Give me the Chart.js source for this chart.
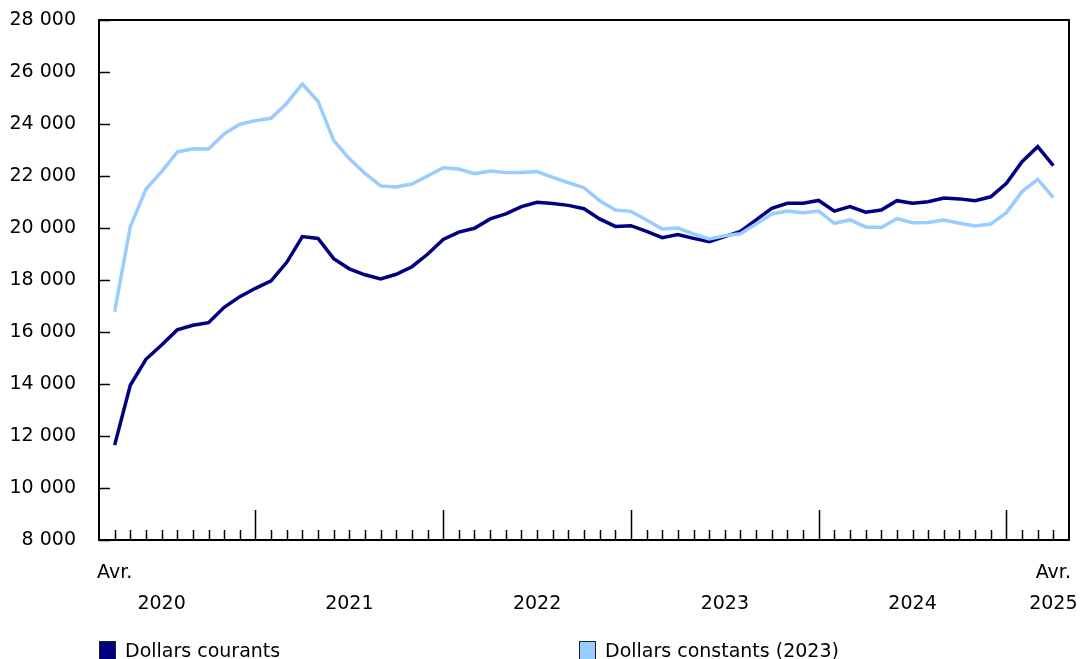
<!DOCTYPE html>
<html lang="fr">
<head>
<meta charset="utf-8">
<title>Dollars courants et constants</title>
<script src="https://cdn.jsdelivr.net/npm/chart.js@4.4.1/dist/chart.umd.min.js"></script>
<style>
    body { margin: 0; background: #fff; font-family: "DejaVu Sans", Verdana, sans-serif; }
    #wrap { position: relative; width: 1082px; height: 659px; overflow: hidden; }
    .legend-item { position: absolute; top: 639px; font-size: 19px; line-height: 22px; color: #000; white-space: nowrap; }
    .swatch { display: inline-block; width: 15px; height: 19px; border: 1.5px solid #222; vertical-align: -5px; margin-right: 9px; }
</style>
</head>
<body>
<div id="wrap">
    <canvas id="chart"></canvas>
    <div class="legend-item" style="left:99px"><span class="swatch" style="background:#000080"></span>Dollars courants</div>
    <div class="legend-item" style="left:579px"><span class="swatch" style="background:#99ccff"></span>Dollars constants (2023)</div>
</div>
<script>
// Monthly series, April 2020 to April 2025 (61 months)
const courants = [
    11650, 13950, 14950, 15500, 16080, 16260, 16360, 16950, 17360,
    17680, 17970, 18680, 19670, 19600, 18820, 18430, 18200, 18040, 18220, 18510, 18990, 19560,
    19840, 19990, 20350, 20540, 20820, 20990, 20940, 20870, 20740, 20350, 20060, 20090,
    19870, 19630, 19750, 19600, 19470, 19670, 19870, 20310, 20760, 20950, 20950, 21060,
    20650, 20820, 20610, 20690, 21050, 20950, 21010, 21150, 21120, 21050, 21200, 21720,
    22550, 23130, 22400
];
const constants = [
    16780, 20050, 21490, 22170, 22920, 23050, 23040, 23620, 23990,
    24130, 24220, 24800, 25540, 24870, 23370, 22660, 22100, 21620, 21580, 21690, 22000, 22320,
    22270, 22090, 22190, 22130, 22130, 22170, 21950, 21740, 21550, 21050, 20690, 20640,
    20310, 19960, 20000, 19770, 19580, 19700, 19780, 20150, 20540, 20650, 20590, 20650,
    20180, 20310, 20040, 20020, 20360, 20200, 20210, 20310, 20180, 20080, 20150, 20590,
    21400, 21870, 21170
];

// Axis labels
const edgeMonth = 'Avr.';
const years = ['2020', '2021', '2022', '2023', '2024', '2025'];
const yearAt = [3, 15, 27, 39, 51, 60];      // month index under which each year is written
const januaries = [9, 21, 33, 45, 57];       // long ticks
const yMin = 8000, yMax = 28000, yStep = 2000;

const points = arr => arr.map((v, i) => ({ x: i, y: v }));

function fmt(v) {
    return String(v).replace(/\B(?=(\d{3})+(?!\d))/g, ' ');
}

// Inward tick marks and chart frame
const ticksPlugin = {
    id: 'innerTicks',
    afterDraw(chart) {
        const { ctx, chartArea: a, scales: { x, y } } = chart;
        ctx.save();
        ctx.strokeStyle = '#000';
        ctx.lineWidth = 1.5;
        ctx.beginPath();
        for (let i = 0; i < courants.length; i++) {
            const px = Math.round(x.getPixelForValue(i)) + 0.5;
            const len = januaries.includes(i) ? 30 : 10;
            ctx.moveTo(px, a.bottom);
            ctx.lineTo(px, a.bottom - len);
        }
        y.ticks.forEach(t => {
            const py = Math.round(y.getPixelForValue(t.value)) + 0.5;
            ctx.moveTo(a.left, py);
            ctx.lineTo(a.left + 11, py);
        });
        ctx.stroke();
        ctx.lineWidth = 2;
        ctx.strokeRect(a.left, a.top, a.right - a.left, a.bottom - a.top);
        ctx.restore();
    }
};

const ctx = document.getElementById('chart').getContext('2d');
new Chart(ctx, {
    type: 'line',
    data: {
        datasets: [{
            label: 'Dollars courants',
            data: points(courants),
            borderColor: '#000080',
            borderWidth: 3.5,
            pointRadius: 0,
            tension: 0,
            order: 2
        }, {
            label: 'Dollars constants (2023)',
            data: points(constants),
            borderColor: '#99ccff',
            borderWidth: 3.5,
            pointRadius: 0,
            tension: 0,
            order: 1
        }]
    },
    options: {
        responsive: true,
        maintainAspectRatio: false,
        animation: false,
        layout: { padding: { top: 20, right: 13, left: 0, bottom: 0 } },
        plugins: { legend: { display: false }, tooltip: { enabled: false } },
        scales: {
            x: {
                type: 'linear',
                min: -1,
                max: 61,
                afterFit: s => {
                    s.height = 119;
                    s.paddingLeft = 0;
                    s.paddingRight = 0;
                },
                grid: { display: false, drawTicks: false },
                border: { display: true, color: '#000', width: 2 },
                ticks: {
                    stepSize: 1,
                    autoSkip: false,
                    maxRotation: 0,
                    minRotation: 0,
                    padding: 18,
                    color: '#000',
                    font: { family: 'DejaVu Sans', size: 19, lineHeight: 1.63 },
                    callback: v => {
                        const top = (v === 0 || v === 60) ? edgeMonth : '';
                        const k = yearAt.indexOf(v);
                        const bottom = k >= 0 ? years[k] : '';
                        return (top || bottom) ? [top, bottom] : '';
                    }
                }
            },
            y: {
                min: yMin,
                max: yMax,
                afterFit: s => {
                    s.width = 99;
                    s.paddingTop = 12;
                    s.paddingBottom = 12;
                },
                grid: { display: false, drawTicks: false },
                border: { display: true, color: '#000', width: 2 },
                ticks: {
                    stepSize: yStep,
                    padding: 23,
                    color: '#000',
                    font: { family: 'DejaVu Sans', size: 19 },
                    callback: v => fmt(v)
                }
            }
        }
    },
    plugins: [ticksPlugin]
});
</script>
</body>
</html>
